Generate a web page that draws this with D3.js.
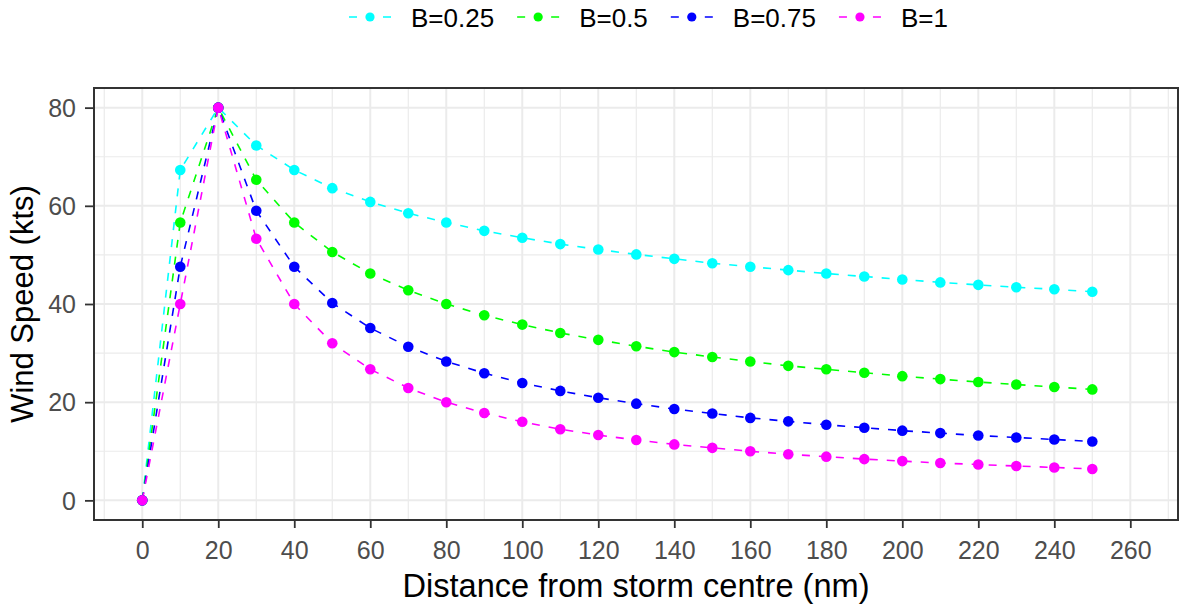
<!DOCTYPE html>
<html><head><meta charset="utf-8">
<script src="https://cdn.jsdelivr.net/npm/d3@7"></script>
<style>
body{margin:0;background:#fff}
svg{display:block}
text{font-family:"Liberation Sans",Arial,sans-serif}
</style>
</head><body>
<svg id="chart" width="1184" height="608"></svg>
<script>
// ---- data ----
const distance = [0,10,20,30,40,50,60,70,80,90,100,110,120,130,140,150,160,170,180,190,200,210,220,230,240,250];
const seriesNames = ["B=0.25","B=0.5","B=0.75","B=1"];
const seriesColors = ["#00FFFF","#00FF00","#0000FF","#FF00FF"];
const speedB025 = [0,67.3,80,72.3,67.3,63.6,60.8,58.5,56.6,54.9,53.5,52.2,51.1,50.1,49.2,48.3,47.6,46.9,46.2,45.6,45.0,44.4,43.9,43.4,43.0,42.5];
const speedB050 = [0,56.6,80,65.3,56.6,50.6,46.2,42.8,40.0,37.7,35.8,34.1,32.7,31.4,30.2,29.2,28.3,27.4,26.7,26.0,25.3,24.7,24.1,23.6,23.1,22.6];
const speedB075 = [0,47.6,80,59.0,47.6,40.2,35.1,31.3,28.3,25.9,23.9,22.3,20.9,19.7,18.6,17.7,16.8,16.1,15.4,14.8,14.2,13.7,13.2,12.8,12.4,12.0];
const speedB100 = [0,40.0,80,53.3,40.0,32.0,26.7,22.9,20.0,17.8,16.0,14.5,13.3,12.3,11.4,10.7,10.0,9.4,8.9,8.4,8.0,7.6,7.3,7.0,6.7,6.4];
const xTicks = [0,20,40,60,80,100,120,140,160,180,200,220,240,260];
const xMinorTicks = [-10,10,30,50,70,90,110,130,150,170,190,210,230,250,270];
const yTicks = [0,20,40,60,80];
const yMinorTicks = [10,30,50,70];
const xTitle = "Distance from storm centre (nm)";
const yTitle = "Wind Speed (kts)";

const allSeries = [speedB025, speedB050, speedB075, speedB100].map((vals, i) => ({
  name: seriesNames[i], color: seriesColors[i],
  points: distance.map((d, j) => ({x: d, y: vals[j]}))
}));

// ---- layout ----
const svg = d3.select("#chart");
const panel = {left: 94, right: 1178, top: 88, bottom: 520};
const x = d3.scaleLinear().domain([-12.7, 272.55]).range([panel.left, panel.right]);
const y = d3.scaleLinear().domain([-4, 84]).range([panel.bottom, panel.top]);

svg.append("rect").attr("width",1184).attr("height",608).attr("fill","#fff");

const defs = svg.append("defs");
defs.append("clipPath").attr("id","clip").append("rect")
  .attr("x",panel.left).attr("y",panel.top)
  .attr("width",panel.right-panel.left).attr("height",panel.bottom-panel.top);

const grid = svg.append("g").attr("clip-path","url(#clip)");
// minor grid
grid.selectAll(".xminor").data(xMinorTicks).enter().append("line")
  .attr("x1",d=>x(d)).attr("x2",d=>x(d)).attr("y1",panel.top).attr("y2",panel.bottom)
  .attr("stroke","#ebebeb").attr("stroke-width",1.2);
grid.selectAll(".yminor").data(yMinorTicks).enter().append("line")
  .attr("y1",d=>y(d)).attr("y2",d=>y(d)).attr("x1",panel.left).attr("x2",panel.right)
  .attr("stroke","#ebebeb").attr("stroke-width",1.2);
// major grid
grid.selectAll(".xmajor").data(xTicks).enter().append("line")
  .attr("x1",d=>x(d)).attr("x2",d=>x(d)).attr("y1",panel.top).attr("y2",panel.bottom)
  .attr("stroke","#ebebeb").attr("stroke-width",2);
grid.selectAll(".ymajor").data(yTicks).enter().append("line")
  .attr("y1",d=>y(d)).attr("y2",d=>y(d)).attr("x1",panel.left).attr("x2",panel.right)
  .attr("stroke","#ebebeb").attr("stroke-width",2);

// ---- series ----
const dash = "8,9";
const line = d3.line().x(d=>x(d.x)).y(d=>y(d.y));
const plot = svg.append("g").attr("clip-path","url(#clip)");
plot.selectAll(".series").data(allSeries).enter().append("path")
  .attr("d",d=>line(d.points)).attr("fill","none")
  .attr("stroke",d=>d.color).attr("stroke-width",1.6).attr("stroke-dasharray",dash);
allSeries.forEach(s => {
  plot.append("g").selectAll("circle").data(s.points).enter().append("circle")
    .attr("cx",d=>x(d.x)).attr("cy",d=>y(d.y)).attr("r",5.3).attr("fill",s.color);
});

// ---- border & axes ----
svg.append("rect").attr("x",panel.left).attr("y",panel.top)
  .attr("width",panel.right-panel.left).attr("height",panel.bottom-panel.top)
  .attr("fill","none").attr("stroke","#333333").attr("stroke-width",2);

const xAxis = d3.axisBottom(x).tickValues(xTicks).tickSize(8).tickPadding(6).tickFormat(d3.format("d"));
const gx = svg.append("g").attr("transform",`translate(0,${panel.bottom})`).call(xAxis);
gx.select(".domain").remove();
gx.selectAll(".tick line").attr("stroke","#333333").attr("stroke-width",1.8);
gx.selectAll(".tick text").attr("fill","#4d4d4d").attr("font-size",25)
  .attr("font-family",'"Liberation Sans",Arial,sans-serif').attr("dy",null).attr("y",39);

const yAxis = d3.axisLeft(y).tickValues(yTicks).tickSize(9).tickPadding(8).tickFormat(d3.format("d"));
const gy = svg.append("g").attr("transform",`translate(${panel.left},0)`).call(yAxis);
gy.select(".domain").remove();
gy.selectAll(".tick line").attr("stroke","#333333").attr("stroke-width",1.8);
gy.selectAll(".tick text").attr("fill","#4d4d4d").attr("font-size",25)
  .attr("font-family",'"Liberation Sans",Arial,sans-serif').attr("x",-18).attr("dy","0.35em");

// titles
svg.append("text").attr("x",(panel.left+panel.right)/2).attr("y",597)
  .attr("text-anchor","middle").attr("font-size",32.6).attr("fill","#000").text(xTitle);
svg.append("text").attr("transform",`translate(33,${(panel.top+panel.bottom)/2}) rotate(-90)`)
  .attr("text-anchor","middle").attr("font-size",31).attr("fill","#000").text(yTitle);

// ---- legend ----
const legend = svg.append("g");
let cx = 370;
const ly = 17;
allSeries.forEach(s => {
  const g = legend.append("g");
  g.append("line").attr("x1",cx-21).attr("x2",cx+21).attr("y1",ly).attr("y2",ly)
    .attr("stroke",s.color).attr("stroke-width",1.6).attr("stroke-dasharray",dash);
  g.append("circle").attr("cx",cx).attr("cy",ly).attr("r",4.6).attr("fill",s.color);
  const t = g.append("text").attr("x",cx+41).attr("y",27).attr("font-size",26)
    .attr("fill","#000").text(s.name);
  const w = t.node().getComputedTextLength();
  cx = cx + 41 + w + 44;
});
</script>
</body></html>
